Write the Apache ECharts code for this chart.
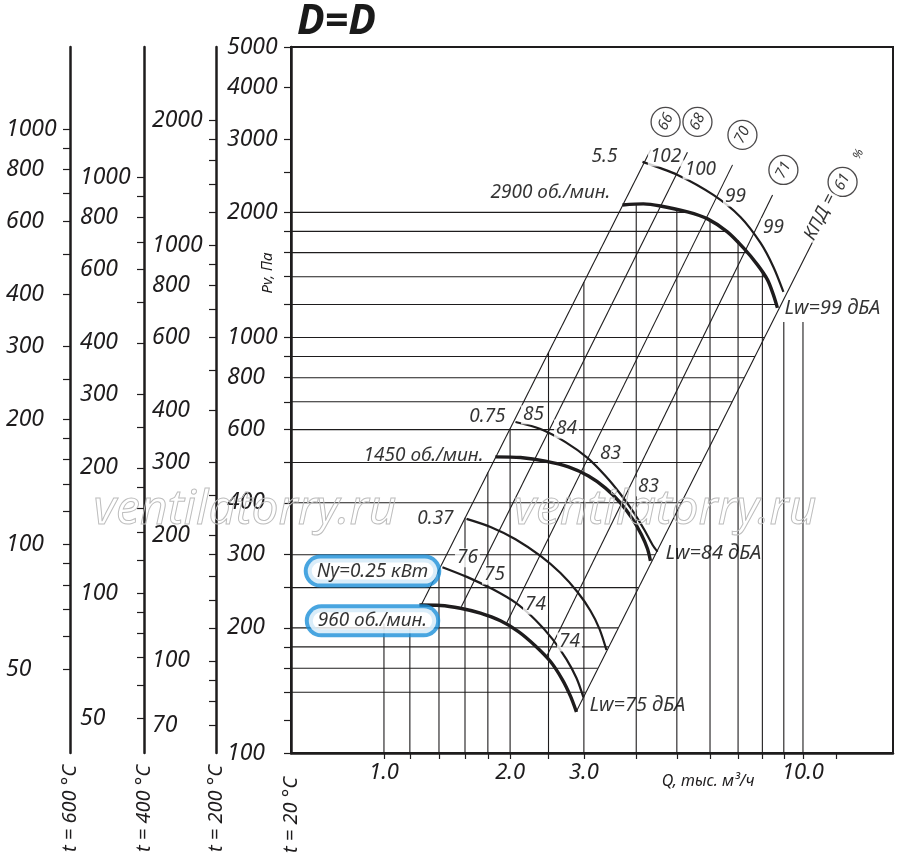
<!DOCTYPE html>
<html><head><meta charset="utf-8">
<script src="https://cdn.jsdelivr.net/npm/echarts@6/dist/echarts.min.js"></script>
<style>html,body{margin:0;padding:0;background:#fff}#c{width:900px;height:860px}</style>
</head><body><div id="c"></div>
<script>
// ---------- DATA ----------
// flow Q, thousand m3/h (log axis) ; pressure Pv, Pa (log axis)
const xTickValues = [1, 1.153, 1.353, 1.561, 1.77, 2, 2.47, 3, 4, 5, 6, 7, 8, 9, 10, 12];
const xLabelValues = [1, 2, 3, 10];

const pTicks20 = [100,120,140,160,180,200,250,300,400,500,600,700,800,900,1000,1200,1400,1600,1800,2000,2500,3000,4000,5000];
const pLabels20 = [100,200,300,400,600,800,1000,2000,3000,4000,5000];
const pTicks200 = [70,80,90,100,120,140,160,180,200,250,300,400,500,600,700,800,900,1000,1200,1400,1600,1800,2000];
const pLabels200 = [70,100,200,300,400,600,800,1000,2000];
const pTicks400 = [50,60,70,80,90,100,120,140,160,180,200,250,300,400,500,600,700,800,900,1000];
const pLabels400 = [50,100,200,300,400,600,800,1000];
const pTicks600 = [50,60,70,80,90,100,120,140,160,180,200,250,300,400,500,600,700,800,900,1000];
const pLabels600 = [50,100,200,300,400,600,800,1000];

// fan curves [Q, P]
const curve2900 = [[3.71,2084],[4.16,2096],[4.57,2072],[5.30,2005],[5.92,1929],[6.60,1795],[7.21,1642],[7.79,1495],[8.23,1376],[8.50,1266],[8.69,1178]];
const curve1450 = [[1.845,516],[2.118,514],[2.429,504],[2.756,488],[3.077,464],[3.379,434],[3.667,400],[3.918,366],[4.117,335],[4.255,310],[4.325,290]];
const curve960  = [[1.215,227],[1.364,226.5],[1.522,223],[1.699,217],[1.897,208],[2.094,196],[2.299,181],[2.497,166],[2.667,150],[2.787,137],[2.880,125.5]];
const power55   = [[4.14,2645],[5.02,2461],[6.11,2203],[7.09,1950],[7.92,1688],[8.50,1478],[8.98,1287]];
const power075  = [[2.060,626],[2.363,602],[2.712,560],[3.060,513],[3.379,464],[3.667,420],[3.940,380],[4.185,344],[4.373,317],[4.496,305]];
const power037  = [[1.574,366],[1.796,350],[2.060,327],[2.363,298],[2.638,271],[2.896,244],[3.110,220],[3.268,199],[3.396,177]];
const power025  = [[1.379,280],[1.582,265],[1.815,248],[2.060,230],[2.299,209],[2.525,188],[2.727,168],[2.880,151.5],[2.993,136]];

// efficiency rays (end points)
const eff66 = [[1.23,228],[4.33,2831]];
const eff68 = [[1.53,225],[5.30,2790]];
const eff70 = [[1.96,205],[6.79,2602]];
const eff71 = [[2.44,170],[8.46,2203]];
const eff61 = [[2.88,126],[10.6,1717]];

// grid mesh
const hGridLevels = [2000,1800,1600,1400,1200,1000,900,800,700,600,500,400,300,250,200,180,160,140];
const hGridEndQ   = [5.33,6.59,7.38,8.14,8.64,8.10,7.68,7.24,6.78,6.27,5.73,5.12,4.44,4.05,3.62,3.44,3.24,3.03];
const vGridQ      = [1,1.153,1.353,1.561,1.77,2,2.47,3,4,5,6,7,8,9,10];
const vGridTopP   = [205,201,276,368,473,604,921,1359,2090,2040,1915,1715,1438,1090,1090];

// texts
const noiseTexts = ['102','100','99','99','85','84','83','83','76','75','74','74'];
const noiseAnchors = [[4.70,2719],[5.69,2530],[6.90,2178],[8.50,1834],[2.275,651],[2.727,602],[3.472,524],[4.279,437],[1.582,295],[1.835,268],[2.299,227],[2.772,185]];
const powerTexts = ['5.5','0.75','0.37'];
const powerAnchors = [[3.36,2719],[1.766,644],[1.327,366]];
const speedTexts = ['2900 об./мин.','1450 об./мин.'];
const speedAnchors = [[2.497,2227],[1.243,521]];
const lwTexts = ['Lw=75 дБА','Lw=84 дБА','Lw=99 дБА'];
const lwAnchors = [[4.027,130.5],[6.114,303],[11.76,1178]];
const boxTexts = ['Ny=0.25 кВт','960 об./мин.'];
const boxAnchors = [[0.939,274],[0.939,208]];
const effTexts = ['66','68','70','71','61'];
const effAnchors = [[4.70,3302],[5.60,3302],[7.17,3072],[8.98,2530],[12.43,2367]];

// ---------- CHART ----------
const FONT = '"Noto Sans", "DejaVu Sans", sans-serif';
const INK = '#1e1c1d';
const chart = echarts.init(document.getElementById('c'), null, {renderer:'canvas'});

function pAxis(min, max, offset, ticks, labels, name, nameGap) {
  return {
    type:'log', logBase:10, min:min, max:max, position:'left', offset:offset,
    name:name, nameLocation:'start', nameRotate:90, nameGap:nameGap,
    nameTextStyle:{fontSize:20, fontStyle:'italic', fontFamily:FONT, color:INK},
    axisLine:{show:true, onZero:false, lineStyle:{color:INK, width:2.5}},
    axisTick:{show:true, customValues:ticks, length:7, inside:false, lineStyle:{color:INK, width:1.2}},
    axisLabel:{show:true, customValues:labels, formatter:v=>String(Math.round(v)), align:'left', margin:64,
      fontSize:23, fontStyle:'italic', fontFamily:FONT, color:INK},
    splitLine:{show:false}, minorTick:{show:false}
  };
}

const series = [];
const thin = {color:INK, width:1.1};
hGridLevels.forEach((p,i)=>series.push({type:'line', data:[[0.6,p],[hGridEndQ[i],p]], symbol:'none', silent:true, lineStyle:thin, z:1}));
vGridQ.forEach((q,i)=>series.push({type:'line', data:[[q,100],[q,vGridTopP[i]]], symbol:'none', silent:true, lineStyle:thin, z:1}));
[eff66,eff68,eff70,eff71,eff61].forEach(d=>series.push({type:'line', data:d, symbol:'none', silent:true, lineStyle:{color:INK,width:1.1}, z:2}));
[curve2900,curve1450,curve960].forEach(d=>series.push({type:'line', data:d, smooth:0.3, symbol:'none', silent:true, lineStyle:{color:INK,width:3.4}, z:4}));
[power55,power075,power037,power025].forEach(d=>series.push({type:'line', data:d, smooth:0.3, symbol:'none', silent:true, lineStyle:{color:INK,width:2.2}, z:3}));

function textSeries(texts, anchors, labelExtra, z) {
  return {type:'scatter', z:z||10, silent:true, clip:false, symbolSize:1, itemStyle:{color:'rgba(0,0,0,0)'},
    data: texts.map((t,i)=>({name:t, value:anchors[i]})),
    label:Object.assign({show:true, position:'inside', formatter:'{b}', fontSize:18, fontStyle:'italic',
      fontFamily:FONT, color:'#000', textBorderWidth:0}, labelExtra)};
}
series.push(textSeries(noiseTexts, noiseAnchors, {backgroundColor:'#fff', padding:[0,2], fontSize:19}));
series.push(textSeries(powerTexts, powerAnchors, {fontSize:19}));
series.push(textSeries(speedTexts, speedAnchors, {fontSize:19}));
series.push(textSeries(lwTexts, lwAnchors, {fontSize:20}));
series.push(textSeries(boxTexts, boxAnchors, {backgroundColor:'#fff', borderColor:'#1a8fd8', borderWidth:4, borderRadius:14, padding:[3,9], fontSize:19}, 11));
series.push({type:'scatter', z:11, silent:true, clip:false, symbol:'circle', symbolSize:29,
  itemStyle:{color:'#fff', borderColor:INK, borderWidth:1.3},
  data: effTexts.map((t,i)=>({name:t, value:effAnchors[i]})),
  label:{show:true, position:'inside', formatter:'{b}', rotate:63, fontSize:15, fontStyle:'italic', fontFamily:FONT, color:'#000', textBorderWidth:0}});
series.push(textSeries(['КПД ='], [[11.01,1950]], {rotate:63, fontSize:18, backgroundColor:'#fff', padding:[0,2]}, 11));
series.push(textSeries(['%'], [[13.55,2760]], {rotate:63, fontSize:12}, 11));

const option = {
  animation:false,
  backgroundColor:'#fff',
  grid:{left:291, right:7, top:47, bottom:107, show:true, borderColor:INK, borderWidth:2, backgroundColor:'transparent'},
  xAxis:{type:'log', logBase:10, min:0.6, max:16.4,
    axisLine:{show:true, onZero:false, lineStyle:{color:INK, width:2.5}},
    axisTick:{show:true, customValues:xTickValues, length:6, lineStyle:{color:INK, width:1.2}},
    axisLabel:{show:true, customValues:xLabelValues, formatter:v=>Number(v).toFixed(1), fontSize:22, fontStyle:'italic', fontFamily:FONT, color:INK, margin:9},
    splitLine:{show:false}, minorTick:{show:false}},
  yAxis:[
    pAxis(100, 5000, 0, pTicks20, pLabels20, 't = 20 °C', 24),
    pAxis(60, 3000, 75, pTicks200, pLabels200, 't = 200 °C', 12),
    pAxis(41.2, 2060, 147, pTicks400, pLabels400, 't = 400 °C', 12),
    pAxis(31.5, 1575, 221, pTicks600, pLabels600, 't = 600 °C', 12)
  ],
  series: series,
  graphic:[
    {type:'text', left:297, top:2, style:{text:'D=D', font:'italic bold 41px ' + FONT, fill:'#1a1a1a'}},
    {type:'text', x:268, y:273, rotation:Math.PI/2, style:{text:'Pv, Па', font:'italic 15px ' + FONT, fill:INK, align:'center', verticalAlign:'middle'}},
    {type:'text', x:708, y:781, style:{text:'Q, тыс. м³/ч', font:'italic 16px ' + FONT, fill:INK, align:'center', verticalAlign:'middle'}},
    {type:'text', x:245, y:510, z:20, silent:true, style:{text:'ventilatorry.ru', font:'italic 48px ' + FONT, fill:'rgba(255,255,255,0)', stroke:'#bdbdbd', lineWidth:1, align:'center', verticalAlign:'middle'}},
    {type:'text', x:665, y:510, z:20, silent:true, style:{text:'ventilatorry.ru', font:'italic 48px ' + FONT, fill:'rgba(255,255,255,0)', stroke:'#bdbdbd', lineWidth:1, align:'center', verticalAlign:'middle'}}
  ]
};
chart.setOption(option);
</script></body></html>
